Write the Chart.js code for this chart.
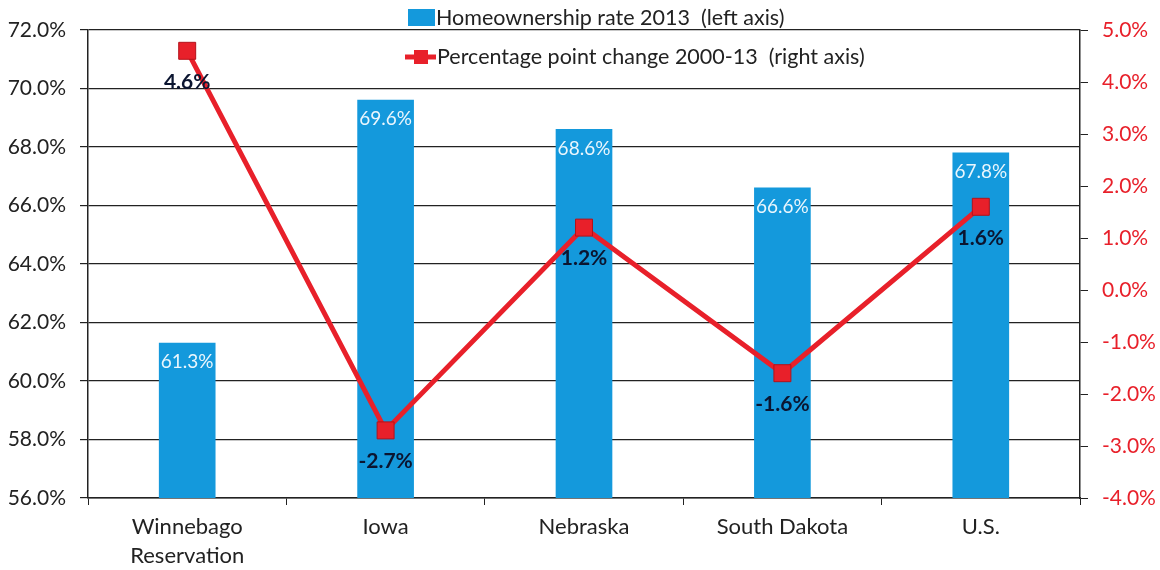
<!DOCTYPE html>
<html>
<head>
<meta charset="utf-8">
<script src="https://cdn.jsdelivr.net/npm/chart.js@4.4.1/dist/chart.umd.min.js"></script>
<style>
  body { margin: 0; background: #fff; }
  #wrap { width: 1160px; height: 570px; }
</style>
</head>
<body>
<div id="wrap"><canvas id="chart" width="1160" height="570"></canvas></div>
<script>
// chart data
const categories = [['Winnebago', 'Reservation'], 'Iowa', 'Nebraska', 'South Dakota', 'U.S.'];
const homeownershipRate = [61.3, 69.6, 68.6, 66.6, 67.8];
const pointChange = [4.6, -2.7, 1.2, -1.6, 1.6];
const leftAxis = [56, 72, 2];   // min, max, step
const rightAxis = [-4, 5, 1];

const FONT = 'Lato, "Noto Sans", sans-serif';
const BLUE = '#1499dc';
const RED = '#e8202a';
const INK = '#222';

const pct = v => v.toFixed(1) + '%';

// value labels on bars and line points
const valueLabels = {
  id: 'valueLabels',
  afterDatasetsDraw(chart) {
    const ctx = chart.ctx;
    ctx.save();
    ctx.textAlign = 'center';
    ctx.textBaseline = 'middle';
    chart.data.datasets.forEach((ds, i) => {
      const meta = chart.getDatasetMeta(i);
      meta.data.forEach((el, j) => {
        if (ds.type === 'bar') {
          ctx.font = '19px ' + FONT;
          ctx.fillStyle = '#eaf6fd';
          ctx.fillText(pct(ds.data[j]), el.x, el.y + 19);
        } else {
          ctx.font = 'bold 21px ' + FONT;
          ctx.fillStyle = '#0b1530';
          ctx.fillText(pct(ds.data[j]), el.x, el.y + 31);
        }
      });
    });
    ctx.restore();
  }
};

// legend drawn inside the plot, near the top
const innerLegend = {
  id: 'innerLegend',
  afterDraw(chart) {
    const ctx = chart.ctx;
    const bar = chart.data.datasets.find(d => d.type === 'bar');
    const line = chart.data.datasets.find(d => d.type === 'line');
    ctx.save();
    ctx.font = '21.5px ' + FONT;
    ctx.textBaseline = 'middle';

    ctx.fillStyle = bar.backgroundColor;
    ctx.fillRect(408, 9, 27, 17);
    ctx.fillStyle = INK;
    ctx.fillText(bar.label, 436, 18);

    ctx.strokeStyle = line.borderColor;
    ctx.lineWidth = 5;
    ctx.beginPath();
    ctx.moveTo(405, 57);
    ctx.lineTo(436, 57);
    ctx.stroke();
    ctx.fillStyle = line.pointBackgroundColor;
    ctx.fillRect(414, 50, 14, 14);
    ctx.fillStyle = INK;
    ctx.fillText(line.label, 437, 57);
    ctx.restore();
  }
};

new Chart(document.getElementById('chart'), {
  data: {
    labels: categories,
    datasets: [
      {
        type: 'line',
        label: 'Percentage point change 2000-13  (right axis)',
        data: pointChange,
        yAxisID: 'yRight',
        borderColor: RED,
        borderWidth: 5,
        pointStyle: 'rect',
        pointRadius: 12,
        pointBackgroundColor: RED,
        pointBorderColor: '#b3121a',
        pointBorderWidth: 1,
        order: 0
      },
      {
        type: 'bar',
        label: 'Homeownership rate 2013  (left axis)',
        data: homeownershipRate,
        yAxisID: 'yLeft',
        backgroundColor: BLUE,
        barThickness: 56,
        order: 1
      }
    ]
  },
  options: {
    responsive: false,
    animation: false,
    layout: { padding: { top: 30, left: 0, right: 0, bottom: 0 } },
    plugins: { legend: { display: false }, tooltip: { enabled: false } },
    scales: {
      x: {
        grid: { offset: true, drawOnChartArea: false, color: INK, tickLength: 7 },
        border: { color: INK, width: 1.5 },
        ticks: { font: { family: FONT, size: 22, lineHeight: 1.3 }, color: INK, padding: 8 },
        afterFit: s => { s.height = 72; }
      },
      yLeft: {
        position: 'left',
        min: leftAxis[0],
        max: leftAxis[1],
        ticks: { stepSize: leftAxis[2], callback: pct, font: { family: FONT, size: 21 }, color: INK, padding: 14 },
        grid: { color: INK, lineWidth: 1.2, tickLength: 8 },
        border: { color: INK, width: 1.5 },
        afterFit: s => { s.width = 88; }
      },
      yRight: {
        position: 'right',
        min: rightAxis[0],
        max: rightAxis[1],
        ticks: { stepSize: rightAxis[2], callback: pct, font: { family: FONT, size: 21 }, color: RED, padding: 14 },
        grid: { drawOnChartArea: false, color: INK, tickLength: 8 },
        border: { color: INK, width: 1.5 },
        afterFit: s => { s.width = 80; }
      }
    }
  },
  plugins: [valueLabels, innerLegend]
});
</script>
</body>
</html>
